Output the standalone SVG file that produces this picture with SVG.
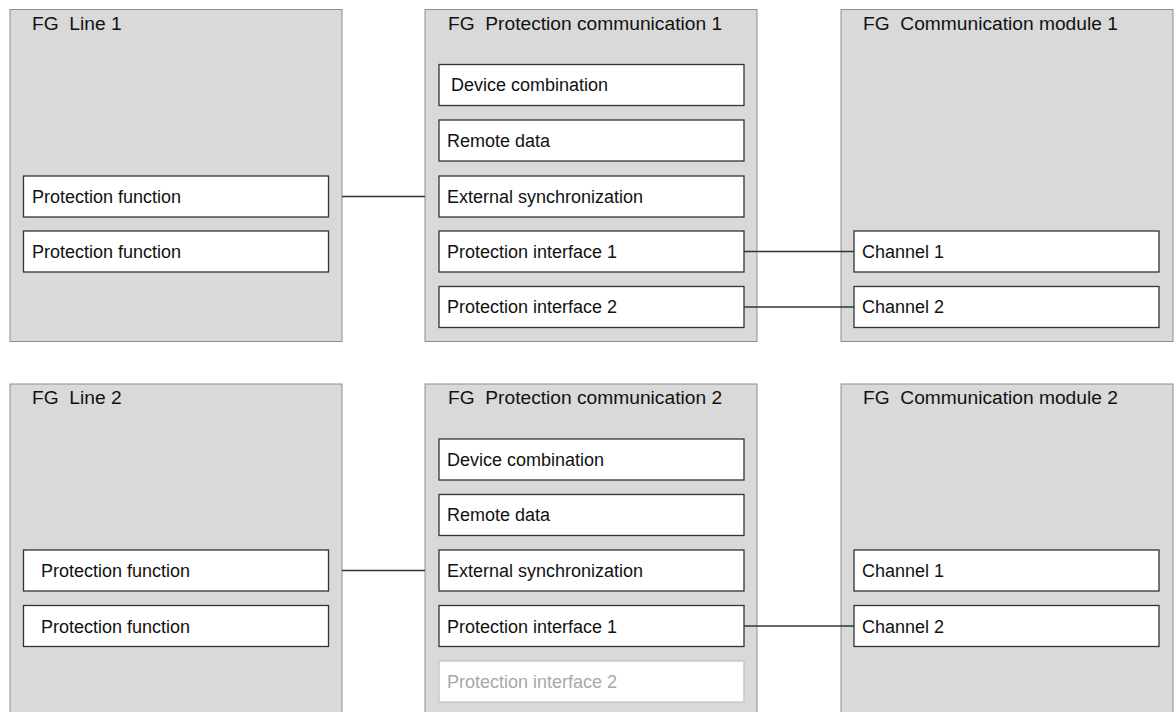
<svg xmlns="http://www.w3.org/2000/svg" width="1176" height="712" viewBox="0 0 1176 712">
  <style>
    .group { fill: #d9d9d9; stroke: #8f8f8f; stroke-width: 1; }
    .item { fill: #ffffff; stroke: #333333; stroke-width: 1.3; }
    .item-off { fill: #ffffff; stroke: #c4c4c4; stroke-width: 1.3; }
    text { font-family: "Liberation Sans", Arial, sans-serif; font-size: 18px; fill: #111111; white-space: pre; }
    .title { font-size: 19.2px; }
    .txt-off { fill: #a8a8a8; }
    .wire { stroke: #333333; stroke-width: 1.3; fill: none; }
  </style>
  <rect width="1176" height="712" fill="#ffffff"/>

  <!-- Upper system -->
  <g id="fg-line-1">
    <rect class="group" x="10" y="9.5" width="332" height="332"/>
    <text class="title" x="32" y="30">FG  Line 1</text>
    <rect class="item" x="23.5" y="176" width="305" height="41"/>
    <text x="32" y="203">Protection function</text>
    <rect class="item" x="23.5" y="231" width="305" height="41"/>
    <text x="32" y="258">Protection function</text>
  </g>

  <g id="fg-protection-communication-1">
    <rect class="group" x="425" y="9.5" width="332" height="332"/>
    <text class="title" x="448" y="30">FG  Protection communication 1</text>
    <rect class="item" x="439" y="64.5" width="305" height="41"/>
    <text x="451" y="91">Device combination</text>
    <rect class="item" x="439" y="120" width="305" height="41"/>
    <text x="447" y="147">Remote data</text>
    <rect class="item" x="439" y="176" width="305" height="41"/>
    <text x="447" y="203">External synchronization</text>
    <rect class="item" x="439" y="231" width="305" height="41"/>
    <text x="447" y="258">Protection interface 1</text>
    <rect class="item" x="439" y="286.5" width="305" height="41"/>
    <text x="447" y="313">Protection interface 2</text>
  </g>

  <g id="fg-communication-module-1">
    <rect class="group" x="841" y="9.5" width="332" height="332"/>
    <text class="title" x="863" y="30">FG  Communication module 1</text>
    <rect class="item" x="854" y="231" width="305" height="41"/>
    <text x="862" y="258">Channel 1</text>
    <rect class="item" x="854" y="286.5" width="305" height="41"/>
    <text x="862" y="313">Channel 2</text>
  </g>

  <!-- Lower system -->
  <g id="fg-line-2">
    <rect class="group" x="10" y="384" width="332" height="340"/>
    <text class="title" x="32" y="404">FG  Line 2</text>
    <rect class="item" x="23.5" y="550" width="305" height="41"/>
    <text x="41" y="577">Protection function</text>
    <rect class="item" x="23.5" y="605.5" width="305" height="41"/>
    <text x="41" y="633">Protection function</text>
  </g>

  <g id="fg-protection-communication-2">
    <rect class="group" x="425" y="384" width="332" height="340"/>
    <text class="title" x="448" y="404">FG  Protection communication 2</text>
    <rect class="item" x="439" y="439" width="305" height="41"/>
    <text x="447" y="466">Device combination</text>
    <rect class="item" x="439" y="494.5" width="305" height="41"/>
    <text x="447" y="521">Remote data</text>
    <rect class="item" x="439" y="550" width="305" height="41"/>
    <text x="447" y="577">External synchronization</text>
    <rect class="item" x="439" y="605.5" width="305" height="41"/>
    <text x="447" y="633">Protection interface 1</text>
    <rect class="item-off" x="439" y="661" width="305" height="41"/>
    <text class="txt-off" x="447" y="688">Protection interface 2</text>
  </g>

  <g id="fg-communication-module-2">
    <rect class="group" x="841" y="384" width="332" height="340"/>
    <text class="title" x="863" y="404">FG  Communication module 2</text>
    <rect class="item" x="854" y="550" width="305" height="41"/>
    <text x="862" y="577">Channel 1</text>
    <rect class="item" x="854" y="605.5" width="305" height="41"/>
    <text x="862" y="633">Channel 2</text>
  </g>

  <!-- Connections -->
  <g id="connectors">
    <line class="wire" x1="342" y1="196.5" x2="425" y2="196.5"/>
    <line class="wire" x1="744" y1="251.5" x2="854" y2="251.5"/>
    <line class="wire" x1="744" y1="307" x2="854" y2="307"/>
    <line class="wire" x1="342" y1="570.5" x2="425" y2="570.5"/>
    <line class="wire" x1="744" y1="626" x2="854" y2="626"/>
  </g>
</svg>
